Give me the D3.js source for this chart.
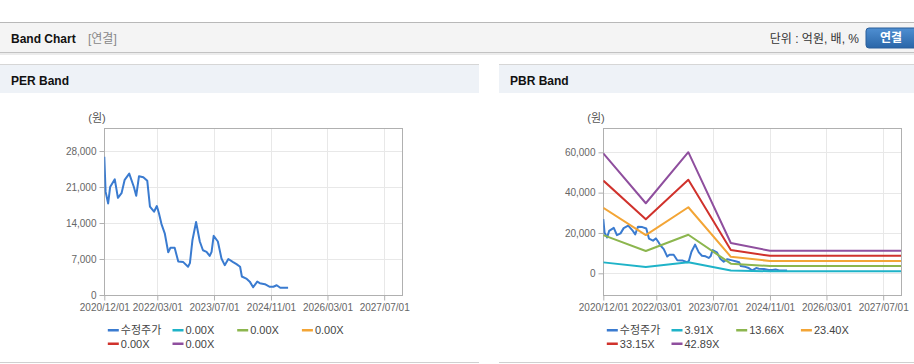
<!DOCTYPE html>
<html>
<head>
<meta charset="utf-8">
<script src="https://cdn.jsdelivr.net/npm/d3@7"></script>
<style>
  body { margin: 0; background: #fff; }
  text { font-family: "Liberation Sans", "Noto Sans CJK KR", sans-serif; }
  .tick text { font-size: 10px; fill: #666; }
  .legend text { font-size: 11px; fill: #444; }
</style>
</head>
<body>
<script>
// ---- data ----
const xTickDates = ["2020/12/01", "2022/03/01", "2023/07/01", "2024/11/01", "2026/03/01", "2027/07/01"];

const priceDates = ["2020/12/01", "2020/12/12", "2021/01/03", "2021/01/20", "2021/03/01", "2021/03/28", "2021/04/28",
    "2021/05/25", "2021/07/03", "2021/08/12", "2021/09/01", "2021/09/25", "2021/11/01", "2021/12/05", "2021/12/28",
    "2022/02/01", "2022/02/25", "2022/03/15", "2022/04/06", "2022/05/04", "2022/06/03", "2022/06/22", "2022/07/28",
    "2022/08/28", "2022/10/10", "2022/11/20", "2022/12/06", "2022/12/28", "2023/01/28", "2023/03/01", "2023/03/28",
    "2023/04/28", "2023/05/25", "2023/06/10", "2023/06/28", "2023/08/03", "2023/09/03", "2023/10/01", "2023/11/01",
    "2023/12/12", "2024/01/10", "2024/02/10", "2024/02/25", "2024/04/03", "2024/05/03", "2024/06/01", "2024/07/06",
    "2024/07/28", "2024/09/10", "2024/10/22", "2024/11/22", "2024/12/20", "2025/01/20", "2025/03/28"];
const priceValues = [26900, 20100, 17800, 21000, 22500, 18900, 19800,
    22400, 23600, 21000, 19300, 23100, 22900, 22200, 17200,
    16200, 17300, 15900, 13800, 12000, 8300, 9200, 9200,
    6500, 6400, 5500, 6200, 10700, 14200, 10400, 8700,
    8400, 7600, 8400, 11500, 10400, 7100, 5800, 7000,
    6400, 6000, 5500, 3600, 3200, 2600, 1500, 2600,
    2300, 2100, 1600, 1600, 1900, 1400, 1400];

const perLabels = ["0.00X", "0.00X", "0.00X", "0.00X", "0.00X"];
const perTicks = [0, 7000, 14000, 21000, 28000];

const pbrLabels = ["3.91X", "13.66X", "23.40X", "33.15X", "42.89X"];
const pbrTicks = [0, 20000, 40000, 60000];
const bandDates = ["2020/12/01", "2021/12/01", "2022/12/01", "2023/12/01", "2024/11/01", "2027/12/01"];
const pbrBand1 = [5420, 3170, 5470, 1370, 1020, 1020];
const pbrBand2 = [18950, 11070, 19120, 4780, 3570, 3570];
const pbrBand3 = [32460, 18950, 32760, 8190, 6110, 6110];
const pbrBand4 = [45980, 26850, 46410, 11600, 8650, 8650];
const pbrBand5 = [59490, 34740, 60050, 15010, 11190, 11190];

const colors = ["#3a7bd0", "#1fb3c8", "#8cb64e", "#f3a536", "#d0322c", "#8f4f9e"];

const parse = d3.timeParse("%Y/%m/%d");
const fmtDate = d3.timeFormat("%Y/%m/%d");

const svg = d3.select("body")
    .append("svg")
    .attr("width", 914)
    .attr("height", 364);

// ---- top header bar ----
svg.append("rect")
    .attr("x", 0).attr("y", 22)
    .attr("width", 914).attr("height", 31)
    .attr("fill", "#f4f4f4");
svg.append("rect").attr("x", 0).attr("y", 22).attr("width", 914).attr("height", 1).attr("fill", "#b8b8b8");
svg.append("rect").attr("x", 0).attr("y", 52).attr("width", 914).attr("height", 1).attr("fill", "#c2c2c2");
svg.append("rect").attr("x", 0).attr("y", 53).attr("width", 914).attr("height", 2).attr("fill", "#ececec");

svg.append("text")
    .text("Band Chart")
    .attr("x", 11).attr("y", 43)
    .style("font-size", "12px").style("font-weight", "bold").attr("fill", "#111");
svg.append("text")
    .text("[연결]")
    .attr("x", 88).attr("y", 43)
    .style("font-size", "12px").attr("fill", "#888");
svg.append("text")
    .text("단위 : 억원, 배, %")
    .attr("x", 859).attr("y", 43)
    .attr("text-anchor", "end")
    .style("font-size", "12px").attr("fill", "#333");

const grad = svg.append("defs").append("linearGradient")
    .attr("id", "btn").attr("x1", 0).attr("y1", 0).attr("x2", 0).attr("y2", 1);
grad.append("stop").attr("offset", "0%").attr("stop-color", "#4f8fd2");
grad.append("stop").attr("offset", "100%").attr("stop-color", "#2a66a8");

svg.append("rect")
    .attr("x", 866).attr("y", 28)
    .attr("width", 60).attr("height", 20)
    .attr("rx", 3)
    .attr("fill", "url(#btn)")
    .attr("stroke", "#2b5f9a");
svg.append("text")
    .text("연결")
    .attr("x", 891).attr("y", 42)
    .attr("text-anchor", "middle")
    .style("font-size", "12px").style("font-weight", "bold").attr("fill", "#fff");

// ---- one panel with a chart ----
function drawPanel(px, pw, title, frameLeft, yDomain, yTicks, series, legendItems, clipId) {
    svg.append("rect").attr("x", px).attr("y", 64).attr("width", pw).attr("height", 1).attr("fill", "#d6d6d6");
    svg.append("rect").attr("x", px).attr("y", 65).attr("width", pw).attr("height", 28).attr("fill", "#eef2f7");
    svg.append("rect").attr("x", px).attr("y", 362).attr("width", pw).attr("height", 1).attr("fill", "#d0d0d0");
    svg.append("text")
        .text(title)
        .attr("x", px + 11).attr("y", 85)
        .style("font-size", "12px").style("font-weight", "bold").attr("fill", "#111");

    const top = 128, bottom = 295, right = frameLeft + 297.7;

    const x = d3.scaleTime()
        .domain([parse("2020/12/01"), parse("2027/12/01")])
        .range([frameLeft, right]);
    const y = d3.scaleLinear()
        .domain(yDomain)
        .range([bottom, top]);

    // grid
    svg.selectAll(".hgrid-" + clipId)
        .data(yTicks)
        .join("line")
        .attr("x1", frameLeft).attr("x2", right)
        .attr("y1", d => Math.round(y(d)) + 0.5).attr("y2", d => Math.round(y(d)) + 0.5)
        .attr("stroke", "#e8e8e8");
    svg.selectAll(".vgrid-" + clipId)
        .data(xTickDates)
        .join("line")
        .attr("x1", d => Math.round(x(parse(d))) + 0.5).attr("x2", d => Math.round(x(parse(d))) + 0.5)
        .attr("y1", top).attr("y2", bottom)
        .attr("stroke", "#e8e8e8");

    // frame
    svg.append("rect")
        .attr("x", Math.round(frameLeft) + 0.5).attr("y", top + 0.5)
        .attr("width", Math.round(right - frameLeft)).attr("height", bottom - top)
        .attr("fill", "none")
        .attr("stroke", "#b0b0b0");

    // axes
    const xAxis = svg.append("g")
        .attr("transform", `translate(0, ${bottom + 0.5})`)
        .call(d3.axisBottom(x)
            .tickValues(xTickDates.map(parse))
            .tickFormat(fmtDate)
            .tickSize(5)
            .tickPadding(3));
    const yAxis = svg.append("g")
        .attr("transform", `translate(${Math.round(frameLeft) + 0.5}, 0)`)
        .call(d3.axisLeft(y)
            .tickValues(yTicks)
            .tickFormat(d3.format(","))
            .tickSize(5)
            .tickPadding(3));
    [xAxis, yAxis].forEach(a => {
        a.select(".domain").remove();
        a.selectAll(".tick line").attr("stroke", "#b0b0b0");
    });

    svg.append("text")
        .text("(원)")
        .attr("x", frameLeft - 16).attr("y", 122)
        .style("font-size", "11px").attr("fill", "#555");

    // lines
    svg.append("clipPath").attr("id", clipId)
        .append("rect")
        .attr("x", frameLeft).attr("y", top)
        .attr("width", right - frameLeft).attr("height", bottom - top);

    const line = d3.line()
        .x(d => x(d.date))
        .y(d => y(d.value));

    svg.append("g")
        .attr("clip-path", `url(#${clipId})`)
        .selectAll("path")
        .data(series)
        .join("path")
        .attr("d", s => line(s.dates.map((d, i) => ({ date: parse(d), value: s.values[i] }))))
        .attr("fill", "none")
        .attr("stroke", s => s.color)
        .attr("stroke-width", 2)
        .attr("stroke-linejoin", "round");

    // legend
    const leg = svg.append("g").classed("legend", true);
    const items = leg.selectAll("g")
        .data(legendItems)
        .join("g")
        .attr("transform", (d, i) => `translate(${frameLeft + 3.5 + (i % 4) * 64.7}, ${330 + Math.floor(i / 4) * 13.5})`);
    items.append("rect")
        .attr("x", 0).attr("y", -1)
        .attr("width", 11).attr("height", 2.5)
        .attr("fill", d => d.color);
    items.append("text")
        .attr("x", 13).attr("y", 4)
        .text(d => d.label);
}

const legendPer = ["수정주가"].concat(perLabels).map((l, i) => ({ label: l, color: colors[i] }));
const legendPbr = ["수정주가"].concat(pbrLabels).map((l, i) => ({ label: l, color: colors[i] }));

drawPanel(0, 479, "PER Band", 104.3, [0, 32480], perTicks,
    [{ dates: priceDates, values: priceValues, color: colors[0] }],
    legendPer, "clip-per");

drawPanel(499, 415, "PBR Band", 603.3, [-10760, 72050], pbrTicks,
    [
        { dates: priceDates, values: priceValues, color: colors[0] },
        { dates: bandDates, values: pbrBand1, color: colors[1] },
        { dates: bandDates, values: pbrBand2, color: colors[2] },
        { dates: bandDates, values: pbrBand3, color: colors[3] },
        { dates: bandDates, values: pbrBand4, color: colors[4] },
        { dates: bandDates, values: pbrBand5, color: colors[5] }
    ],
    legendPbr, "clip-pbr");
</script>
</body>
</html>
